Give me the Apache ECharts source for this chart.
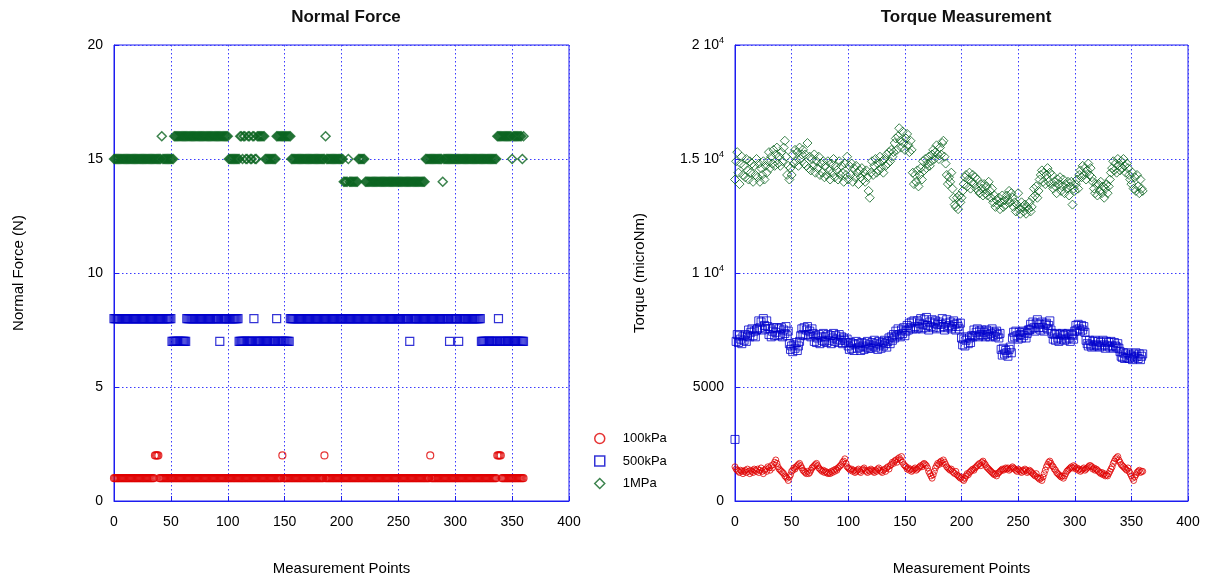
<!DOCTYPE html>
<html>
<head>
<meta charset="utf-8">
<script src="https://cdn.jsdelivr.net/npm/echarts@6/dist/echarts.min.js"></script>
<style>html,body{margin:0;padding:0;background:#fff}#c{width:1208px;height:581px}</style>
</head>
<body>
<div id="c"></div>
<script>
// ---- Data ----
const seriesNames = ['100kPa', '500kPa', '1MPa'];
const xTicks = [0, 50, 100, 150, 200, 250, 300, 350, 400];
const forceTickLabels = ['0', '5', '10', '15', '20'];
const torqueTickLabels = ['0', '5000', '1 10|4', '1.5 10|4', '2 10|4'];

// Normal force: runs of [firstPoint, lastPoint, valueN]
const force100kPaRuns = [[0,35,1],[36,39,2],[40,147,1],[148,148,2],[149,184,1],[185,185,2],[186,277,1],[278,278,2],[279,336,1],[337,340,2],[341,360,1]];
const force500kPaRuns = [[0,50,8],[51,63,7],[64,92,8],[93,93,7],[94,109,8],[110,122,7],[123,123,8],[124,142,7],[143,143,8],[144,154,7],[155,259,8],[260,260,7],[261,294,8],[295,295,7],[296,302,8],[303,303,7],[304,322,8],[323,337,7],[338,338,8],[339,360,7]];
const force1MPaRuns = [[0,41,15],[42,42,16],[43,52,15],[53,100,16],[101,110,15],[111,112,16],[113,113,15],[114,115,16],[116,117,15],[118,119,16],[120,121,15],[122,123,16],[124,125,15],[126,132,16],[133,142,15],[143,155,16],[156,185,15],[186,186,16],[187,201,15],[202,205,14],[206,206,15],[207,214,14],[215,220,15],[221,273,14],[274,288,15],[289,289,14],[290,336,15],[337,349,16],[350,350,15],[351,358,16],[359,359,15],[360,360,16]];

// Torque (microNm), one value per measurement point 0..360
const torque100kPa = [
1500,1400,1350,1300,1250,1350,1300,1200,1300,1350,1250,1400,1300,1200,1350,1300,1250,1400,1350,1300,
1400,1250,1350,1450,1300,1200,1350,1400,1300,1500,1450,1350,1550,1450,1600,1700,1800,1650,1500,1400,
1350,1300,1250,1200,1100,1050,1000,900,1050,1150,1300,1350,1450,1400,1500,1550,1600,1650,1550,1450,
1350,1300,1250,1200,1300,1200,1250,1350,1450,1500,1550,1600,1650,1550,1450,1400,1350,1300,1350,1250,
1300,1250,1200,1250,1200,1300,1250,1350,1300,1400,1350,1450,1500,1550,1600,1700,1750,1850,1650,1500,
1450,1400,1350,1400,1300,1350,1250,1300,1350,1400,1300,1250,1350,1400,1450,1350,1300,1250,1350,1300,
1400,1350,1300,1250,1350,1300,1400,1450,1350,1300,1250,1350,1400,1300,1450,1500,1400,1550,1600,1700,
1650,1750,1800,1700,1850,1900,1800,1950,1700,1600,1550,1500,1400,1450,1350,1400,1300,1350,1400,1450,
1350,1400,1450,1500,1550,1500,1600,1650,1600,1550,1450,1300,1200,1100,1000,1150,1300,1450,1550,1650,
1600,1700,1750,1650,1800,1700,1600,1500,1450,1400,1350,1400,1300,1250,1200,1300,1150,1100,1050,1000,
1050,950,900,1000,1100,1200,1150,1250,1300,1350,1400,1350,1450,1500,1550,1600,1650,1550,1700,1750,
1650,1600,1500,1450,1400,1350,1300,1250,1200,1150,1200,1100,1200,1250,1300,1350,1400,1350,1400,1450,
1400,1450,1350,1400,1450,1500,1450,1400,1350,1300,1400,1350,1300,1250,1350,1300,1400,1350,1250,1300,
1350,1300,1250,1200,1150,1100,1200,1050,1000,950,1000,900,1050,1200,1350,1500,1600,1700,1750,1650,
1550,1500,1400,1350,1250,1200,1150,1100,1050,1100,1000,1100,1200,1300,1350,1400,1450,1500,1450,1550,
1500,1400,1450,1350,1400,1300,1350,1400,1450,1350,1400,1450,1500,1550,1550,1500,1400,1450,1350,1400,
1350,1300,1250,1200,1250,1150,1200,1100,1150,1100,1200,1300,1400,1500,1650,1750,1850,1900,1950,1800,
1700,1600,1550,1500,1450,1400,1350,1450,1300,1200,1100,1000,900,1050,1150,1250,1300,1350,1250,1300,
1300];
const torque500kPa = [
2700,7000,7300,6950,7250,7100,6900,7200,7050,7300,7000,7250,7500,7200,7400,7550,7250,7450,7200,7500,
7550,7900,7600,7850,7500,8000,7700,7550,7900,7650,7300,7550,7200,7450,7600,7250,7400,7600,7250,7550,
7300,7600,7200,7500,7350,7650,7250,7450,6900,6650,6800,6550,6850,6700,6950,6600,6800,7000,7250,7550,
7300,7600,7250,7500,7650,7300,7450,7200,7550,7350,7000,7250,6950,7150,7300,6900,7200,7050,7350,7000,
7200,6950,7300,7050,7250,6900,7150,7350,7000,7250,7100,6950,7300,7050,7200,6900,7150,7050,6950,7100,
6800,6650,6950,6700,6900,6600,6850,7000,6700,6900,6750,6600,6950,6800,6650,6900,6750,7000,6700,6850,
6700,6950,6800,7050,6750,6900,6650,7000,6850,6700,6950,6800,7050,6900,6750,7000,7150,6900,7200,7050,
7300,7150,7450,7250,7550,7300,7200,7500,7350,7600,7250,7450,7700,7500,7800,7600,7850,7550,7900,7650,
7550,7900,7600,7800,8000,7550,7750,7950,7600,8050,7700,7500,7850,7650,7950,7600,7800,7900,7550,7750,
7850,7600,7750,8000,7650,7500,7800,7950,7600,7700,7850,7550,7650,7900,7750,7500,7800,7650,7550,7800,
7150,6850,7100,6800,7050,7200,6900,7150,6950,7250,7200,7500,7250,7400,7550,7200,7450,7300,7500,7250,
7400,7200,7500,7300,7450,7200,7350,7550,7250,7400,7200,7450,7300,7150,7350,6650,6400,6700,6450,6600,
6500,6350,6650,6750,6500,7150,7400,7200,7450,7250,7100,7400,7300,7150,7450,7250,7400,7150,7350,7500,
7500,7750,7550,7850,7600,7450,7800,7950,7600,7750,7500,7850,7600,7450,7750,7800,7550,7700,7900,7500,
7350,7100,7300,7050,7350,7150,7000,7300,7100,7350,7250,7050,7300,7100,7350,7150,7000,7300,7250,7100,
7450,7700,7500,7750,7550,7450,7700,7500,7650,7400,7050,6900,6800,7050,6850,6750,7000,6800,7050,6850,
6800,7000,6750,6950,6800,7050,6850,6700,7000,6800,6950,6750,7000,6800,6700,6950,6800,6750,6900,6700,
6550,6350,6300,6500,6250,6450,6300,6500,6250,6400,6350,6200,6450,6300,6500,6350,6250,6450,6200,6350,
6450];
const torque1MPa = [
14100,14900,15300,14400,13900,14800,15100,14300,14700,14200,15000,14500,14100,14900,14400,14800,14000,14700,14300,15000,
14200,14800,14000,14600,14300,14900,14100,14700,14400,14900,15300,14600,15100,14800,15400,14700,15200,15500,14800,15100,
14700,15300,14900,15500,15800,15100,14300,14700,14100,14600,14300,15200,14800,15400,14900,15300,14700,15500,15000,15200,
15400,14800,15200,14700,15700,14600,15100,14500,15000,14700,15200,14400,14900,14600,15100,14300,14800,14400,14900,14200,
14700,14300,14900,14500,14100,14800,14400,15000,14200,14700,14500,14100,14900,14300,14700,14400,14000,14800,14300,15100,
14100,14700,14300,14800,14000,14600,14200,14700,14400,13900,14500,14200,14600,14100,14400,14000,14500,14200,13600,13300,
14400,14900,14300,14700,15000,14400,14800,14500,15100,14600,14900,14400,15000,14700,15200,14800,15300,14900,15400,15100,
15300,15700,15900,15400,16000,16350,15800,15500,16200,15700,15400,15900,16100,15600,15300,15800,15400,14400,13900,14300,
14000,14500,13800,14300,14600,14100,14900,14500,15000,14600,14800,15100,14700,14900,15200,15400,15000,15300,15600,15200,
15000,15500,15200,15700,15800,15100,14800,14300,13900,14200,14000,14400,13700,13300,13000,12900,13300,12800,13400,13100,
13300,13600,13900,14200,14300,13800,14100,14400,13700,14000,14300,13900,14200,13700,14100,13600,13500,13900,13700,13400,
13900,13500,13800,13400,14000,13600,13300,13700,13100,13400,12900,13200,13000,13300,12800,13100,13400,12900,13200,13000,
13400,13200,13600,13100,13500,13300,12900,13100,12700,13000,13500,12800,12600,13100,12900,12700,13000,12600,12900,12800,
13100,12700,12900,13300,13700,13400,13800,13300,13600,14100,14300,14500,14000,14400,13900,14300,14600,14000,14400,13900,
14300,13700,14000,13800,13500,14100,13900,14200,13600,13800,14100,13500,13900,13700,14000,13400,13800,14000,13000,13700,
13600,13900,14100,13700,14300,14500,14200,14700,14300,14600,14100,14500,14800,14300,14600,14200,14000,13700,13500,13900,
13400,13900,13600,14000,13500,13800,13300,13700,13900,13500,13800,14100,14400,14600,14900,14500,14800,14400,15000,14700,
14500,14900,14600,15000,14700,14400,14800,14600,14300,14100,13900,14400,13700,14200,13600,14300,13800,13500,14100,13700,
13600];

// ---- Build point lists ----
function fromRuns(runs) {
  const pts = [];
  runs.forEach(([a, b, v]) => { for (let x = a; x <= b; x++) pts.push([x, v]); });
  return pts;
}
const indexed = arr => arr.map((v, i) => [i, v]);

const RED = '#e00000', BLUE = '#0000cc', GREEN = '#0b6420';
const AX = '#1c1cf0', GRID = '#3a3aff';
const FONT = "'Liberation Sans', Arial, sans-serif";

function xAxis(gi) {
  return {
    type: 'value', gridIndex: gi, min: 0, max: 400, interval: 50,
    axisLine: { show: true, lineStyle: { color: AX, width: 1 } },
    axisTick: { show: true, inside: true, length: 5, lineStyle: { color: AX } },
    axisLabel: { color: '#000', fontSize: 14, fontFamily: FONT, margin: 14 },
    splitLine: { show: true, lineStyle: { color: GRID, type: [1.5, 2.5], width: 1 } },
    name: 'Measurement Points', nameLocation: 'middle', nameGap: 60,
    nameTextStyle: { color: '#000', fontSize: 15, fontFamily: FONT }
  };
}
function yAxis(gi, max, interval, name, formatter, rich) {
  return {
    type: 'value', gridIndex: gi, min: 0, max: max, interval: interval,
    axisLine: { show: true, lineStyle: { color: AX, width: 1 } },
    axisTick: { show: true, inside: true, length: 5, lineStyle: { color: AX } },
    axisLabel: { color: '#000', fontSize: 14, fontFamily: FONT, margin: 11, formatter: formatter, rich: rich },
    splitLine: { show: true, lineStyle: { color: GRID, type: [1.5, 2.5], width: 1 } },
    name: name, nameLocation: 'middle', nameGap: 88,
    nameTextStyle: { color: '#000', fontSize: 15, fontFamily: FONT }
  };
}
function scatter(name, gi, data, symbol, size, color, bw) {
  return {
    name: name, type: 'scatter', xAxisIndex: gi, yAxisIndex: gi, data: data,
    symbol: symbol, symbolSize: size,
    itemStyle: { color: 'rgba(0,0,0,0)', borderColor: color, borderWidth: bw || 1 },
    emphasis: { disabled: true }, silent: true
  };
}

const chart = echarts.init(document.getElementById('c'), null, { renderer: 'canvas' });
chart.setOption({
  animation: false,
  backgroundColor: '#fff',
  textStyle: { fontFamily: FONT },
  title: [
    { text: 'Normal Force', left: 341, top: 4, textAlign: 'center',
      textStyle: { fontSize: 17, fontWeight: 'bold', color: '#111', fontFamily: FONT } },
    { text: 'Torque Measurement', left: 961, top: 4, textAlign: 'center',
      textStyle: { fontSize: 17, fontWeight: 'bold', color: '#111', fontFamily: FONT } }
  ],
  legend: {
    orient: 'vertical', left: 589, top: 427, itemWidth: 10, itemHeight: 10, itemGap: 9.5,
    textStyle: { fontSize: 13, color: '#000', fontFamily: FONT, padding: [0, 0, 0, 13] },
    data: [
      { name: seriesNames[0], icon: 'circle', itemStyle: { color: 'rgba(0,0,0,0)', borderColor: RED, borderWidth: 1.5 } },
      { name: seriesNames[1], icon: 'rect', itemStyle: { color: 'rgba(0,0,0,0)', borderColor: BLUE, borderWidth: 1.5 } },
      { name: seriesNames[2], icon: 'diamond', itemStyle: { color: 'rgba(0,0,0,0)', borderColor: GREEN, borderWidth: 1.5 } }
    ]
  },
  grid: [
    { left: 114, right: 639, top: 45, bottom: 80, show: true, borderColor: AX, borderWidth: 1, backgroundColor: 'transparent' },
    { left: 735, right: 20, top: 45, bottom: 80, show: true, borderColor: AX, borderWidth: 1, backgroundColor: 'transparent' }
  ],
  xAxis: [xAxis(0), xAxis(1)],
  yAxis: [
    yAxis(0, 20, 5, 'Normal Force (N)', (v) => forceTickLabels[Math.round(v / 5)]),
    yAxis(1, 20000, 5000, 'Torque (microNm)', (v) => {
      const t = torqueTickLabels[Math.round(v / 5000)].split('|');
      return t.length > 1 ? '{b|' + t[0] + '}{s|' + t[1] + '}' : '{b|' + t[0] + '}';
    }, {
      b: { fontSize: 14, color: '#000', fontFamily: FONT, lineHeight: 18 },
      s: { fontSize: 9, color: '#000', fontFamily: FONT, verticalAlign: 'top', lineHeight: 10 }
    })
  ],
  series: [
    scatter(seriesNames[0], 0, fromRuns(force100kPaRuns), 'circle', 7, RED, 1.2),
    scatter(seriesNames[1], 0, fromRuns(force500kPaRuns), 'rect', 8, BLUE, 1.2),
    scatter(seriesNames[2], 0, fromRuns(force1MPaRuns), 'diamond', 9, GREEN, 1.5),
    scatter(seriesNames[0], 1, indexed(torque100kPa), 'circle', 6, RED, 1),
    scatter(seriesNames[1], 1, indexed(torque500kPa), 'rect', 8, BLUE, 1),
    scatter(seriesNames[2], 1, indexed(torque1MPa), 'diamond', 9, GREEN, 1)
  ]
});
</script>
</body>
</html>
